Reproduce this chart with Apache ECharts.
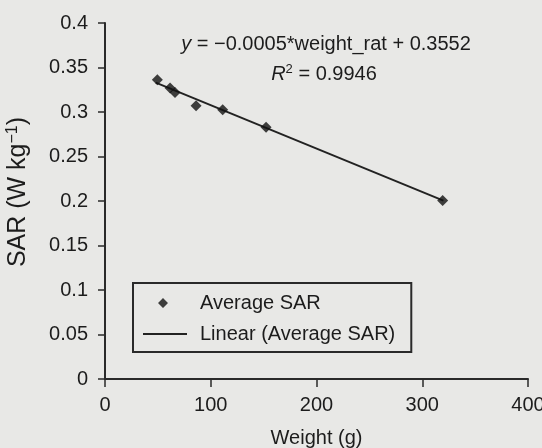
<!DOCTYPE html>
<html>
<head>
<meta charset="utf-8">
<script src="https://cdn.jsdelivr.net/npm/echarts@6/dist/echarts.min.js"></script>
<style>
html,body{margin:0;padding:0;background:#e8e8e6;}
#c{width:542px;height:448px;}
</style>
</head>
<body>
<div id="c"></div>
<script>
// Data
var weight = [49.5, 61.5, 66.2, 86.1, 111.3, 152.3, 319.3];
var avgSAR = [0.3363, 0.327, 0.322, 0.307, 0.3026, 0.283, 0.2007];
var trendX = [48, 320];
var trendY = [0.333, 0.2005];
var yTicks = [0, 0.05, 0.1, 0.15, 0.2, 0.25, 0.3, 0.35, 0.4];
var xTicks = [0, 100, 200, 300, 400];
var eqText = '= \u22120.0005*weight_rat + 0.3552';
var r2Text = '= 0.9946';

var FONT = 'Liberation Sans, Arial, sans-serif';
var INK = '#1c1c1c';

var chart = echarts.init(document.getElementById('c'));
var scatterData = weight.map(function (w, i) { return [w, avgSAR[i]]; });
var lineData = trendX.map(function (x, i) { return [x, trendY[i]]; });

chart.setOption({
  backgroundColor: '#e8e8e6',
  animation: false,
  textStyle: { fontFamily: FONT, color: INK },
  grid: { left: 105, right: 14, top: 23, bottom: 69, containLabel: false, outerBoundsMode: 'none' },
  xAxis: {
    type: 'value', min: xTicks[0], max: xTicks[xTicks.length - 1], interval: 100,
    name: 'Weight (g)', nameLocation: 'middle', nameGap: 49,
    nameTextStyle: { fontSize: 20, color: INK, fontFamily: FONT },
    axisLine: { lineStyle: { color: '#2a2a2a', width: 2 } },
    axisTick: { show: true, length: 8, inside: false, lineStyle: { color: '#2a2a2a', width: 1.5 } },
    axisLabel: { fontSize: 20, color: INK, margin: 16, fontFamily: FONT },
    splitLine: { show: false }
  },
  yAxis: {
    type: 'value', min: yTicks[0], max: yTicks[yTicks.length - 1], interval: 0.05,
    name: '{a|SAR (W kg}{s|\u22121}{a|)}', nameLocation: 'middle', nameGap: 73, nameRotate: 90,
    nameTextStyle: {
      fontFamily: FONT, color: INK, padding: [0, 0, 0, 18],
      rich: {
        a: { fontSize: 25, fontFamily: FONT, color: INK },
        s: { fontSize: 16, fontFamily: FONT, color: INK, padding: [0, 0, 11, 0] }
      }
    },
    axisLine: { show: true, lineStyle: { color: '#2a2a2a', width: 2 } },
    axisTick: { show: true, length: 7, lineStyle: { color: '#2a2a2a', width: 1.5 } },
    axisLabel: { fontSize: 20, color: INK, margin: 17, fontFamily: FONT },
    splitLine: { show: false }
  },
  legend: {
    orient: 'vertical', left: 133, top: 283,
    padding: [10, 16, 8, 10],
    borderColor: '#2a2a2a', borderWidth: 2, backgroundColor: 'transparent',
    itemWidth: 52, itemHeight: 10, itemGap: 11,
    textStyle: { fontSize: 20, color: INK, fontFamily: FONT },
    data: [
      { name: 'Average SAR', icon: 'path://M0,5 L0.01,5 L0,5.01 Z M20,0 L25,5 L20,10 L15,5 Z M52,5 L51.99,5 L52,5.01 Z', itemStyle: { color: '#111' } },
      { name: 'Linear (Average SAR)', icon: 'path://M0,0 L44,0 L44,2 L0,2 Z M52,1 L51.99,1 L52,1.01 Z', itemStyle: { color: '#222' } }
    ]
  },
  series: [
    {
      name: 'Average SAR', type: 'scatter', data: scatterData,
      symbol: 'diamond', symbolSize: 11,
      itemStyle: { color: '#111' }, z: 3
    },
    {
      name: 'Linear (Average SAR)', type: 'line', data: lineData,
      showSymbol: false, symbol: 'none',
      lineStyle: { color: '#222', width: 2 }, itemStyle: { color: '#222' }, z: 2
    }
  ],
  graphic: [
    {
      type: 'text', x: 326, y: 44,
      style: {
        text: '{i|y} ' + eqText,
        align: 'center', verticalAlign: 'middle',
        fontSize: 20, fontFamily: FONT, fill: INK,
        rich: { i: { fontStyle: 'italic', fontSize: 20, fontFamily: FONT, fill: INK } }
      }
    },
    {
      type: 'text', x: 324, y: 74,
      style: {
        text: '{i|R}{s|2} ' + r2Text,
        align: 'center', verticalAlign: 'middle',
        fontSize: 20, fontFamily: FONT, fill: INK,
        rich: {
          i: { fontStyle: 'italic', fontSize: 20, fontFamily: FONT, fill: INK },
          s: { fontSize: 13, fontFamily: FONT, fill: INK, padding: [0, 0, 10, 0] }
        }
      }
    }
  ]
});
</script>
</body>
</html>
